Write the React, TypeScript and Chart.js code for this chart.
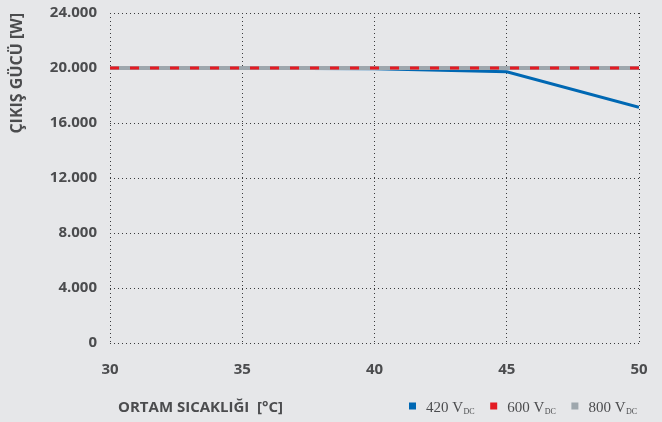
import React, { useEffect, useRef } from "react";
import { Chart, registerables } from "chart.js";

Chart.register(...registerables);

const temps = [30, 35, 40, 45, 50];
const v420 = [20000, 19980, 19940, 19720, 17150];
const v600 = [20000, 20000, 20000, 20000, 20000];
const v800 = [20000, 20000, 20000, 20000, 20000];
const seriesNames = ["420 V", "600 V", "800 V"];
const seriesSub = "DC";
const xTitle = "ORTAM SICAKLIĞI  [°C]";
const yTitle = "ÇIKIŞ GÜCÜ [W]";

const BLUE = "#0068b3";
const RED = "#e31b23";
const GRAY = "#9ea7ad";
const TEXT = "#4b4c4e";
const GRID = "#3a3b3d";
const BG = "#e6e7e9";
const SANS = "'Open Sans', 'Noto Sans', sans-serif";
const SERIF = "'Liberation Serif', 'DejaVu Serif', serif";

const fmt = (v: number) => String(v).replace(/\B(?=(\d{3})+(?!\d))/g, ".");

export default function App() {
  const ref = useRef<HTMLCanvasElement | null>(null);
  useEffect(() => {
    document.body.style.margin = "0";
    document.body.style.background = BG;
    const colors = [BLUE, RED, GRAY];
    const extras = {
      id: "extras",
      afterDraw(chart: any) {
        const ctx = chart.ctx;
        ctx.save();
        ctx.fillStyle = TEXT;
        ctx.font = `bold 15px ${SANS}`;
        ctx.textBaseline = "middle";
        ctx.textAlign = "left";
        ctx.fillText(xTitle, 118, 408);
        let x = 409;
        const y = 406;
        seriesNames.forEach((n, i) => {
          ctx.fillStyle = colors[i];
          ctx.fillRect(x, y - 3.5, 7, 7);
          x += 17;
          ctx.fillStyle = TEXT;
          ctx.font = `15px ${SERIF}`;
          ctx.textBaseline = "alphabetic";
          ctx.fillText(n, x, 412);
          const w = ctx.measureText(n).width;
          ctx.font = `8px ${SERIF}`;
          ctx.fillText(seriesSub, x + w + 0.5, 414);
          const w2 = ctx.measureText(seriesSub).width;
          x += w + w2 + 16;
        });
        ctx.restore();
      },
    };
    const pts = (arr: number[]) => temps.map((t, i) => ({ x: t, y: arr[i] }));
    const chart = new Chart(ref.current!, {
      type: "line",
      data: {
        datasets: [
          { label: "420", data: pts(v420), borderColor: BLUE, borderWidth: 3, pointRadius: 0, order: 3, tension: 0 },
          { label: "800", data: pts(v800), borderColor: GRAY, borderWidth: 4, pointRadius: 0, order: 2 },
          { label: "600", data: pts(v600), borderColor: RED, borderWidth: 3, borderDash: [9, 11], pointRadius: 0, order: 1 },
        ],
      },
      options: {
        responsive: false,
        animation: false,
        layout: { padding: { left: 0, right: 23, top: 13, bottom: 0 } },
        plugins: { legend: { display: false }, tooltip: { enabled: false } },
        scales: {
          x: {
            type: "linear",
            min: 30,
            max: 50,
            afterFit: (s: any) => { s.height = 79; s.paddingLeft = 0; s.paddingRight = 0; },
            ticks: { stepSize: 5, padding: 18, color: TEXT, font: { family: SANS, size: 15, weight: "bold" } },
            grid: { color: GRID, lineWidth: 1, drawTicks: false },
            border: { display: false, color: GRID, dash: [1, 3], width: 1 },
          },
          y: {
            min: 0,
            max: 24000,
            afterFit: (s: any) => { s.width = 110; s.paddingTop = 0; s.paddingBottom = 0; },
            ticks: { stepSize: 4000, padding: 13, color: TEXT, font: { family: SANS, size: 15, weight: "bold" }, callback: (v: any) => fmt(Number(v)) },
            grid: { color: GRID, lineWidth: 1, drawTicks: false },
            border: { display: false, color: GRID, dash: [1, 3], width: 1 },
            title: { display: true, text: yTitle, align: "end", color: TEXT, font: { family: SANS, size: 16, weight: "bold" }, padding: { top: 8, bottom: 0 } },
          },
        },
      },
      plugins: [extras],
    } as any);
    return () => chart.destroy();
  }, []);
  return (
    <div style={{ width: 662, height: 422, background: BG }}>
      <canvas ref={ref} width={662} height={422} style={{ display: "block" }} />
    </div>
  );
}
